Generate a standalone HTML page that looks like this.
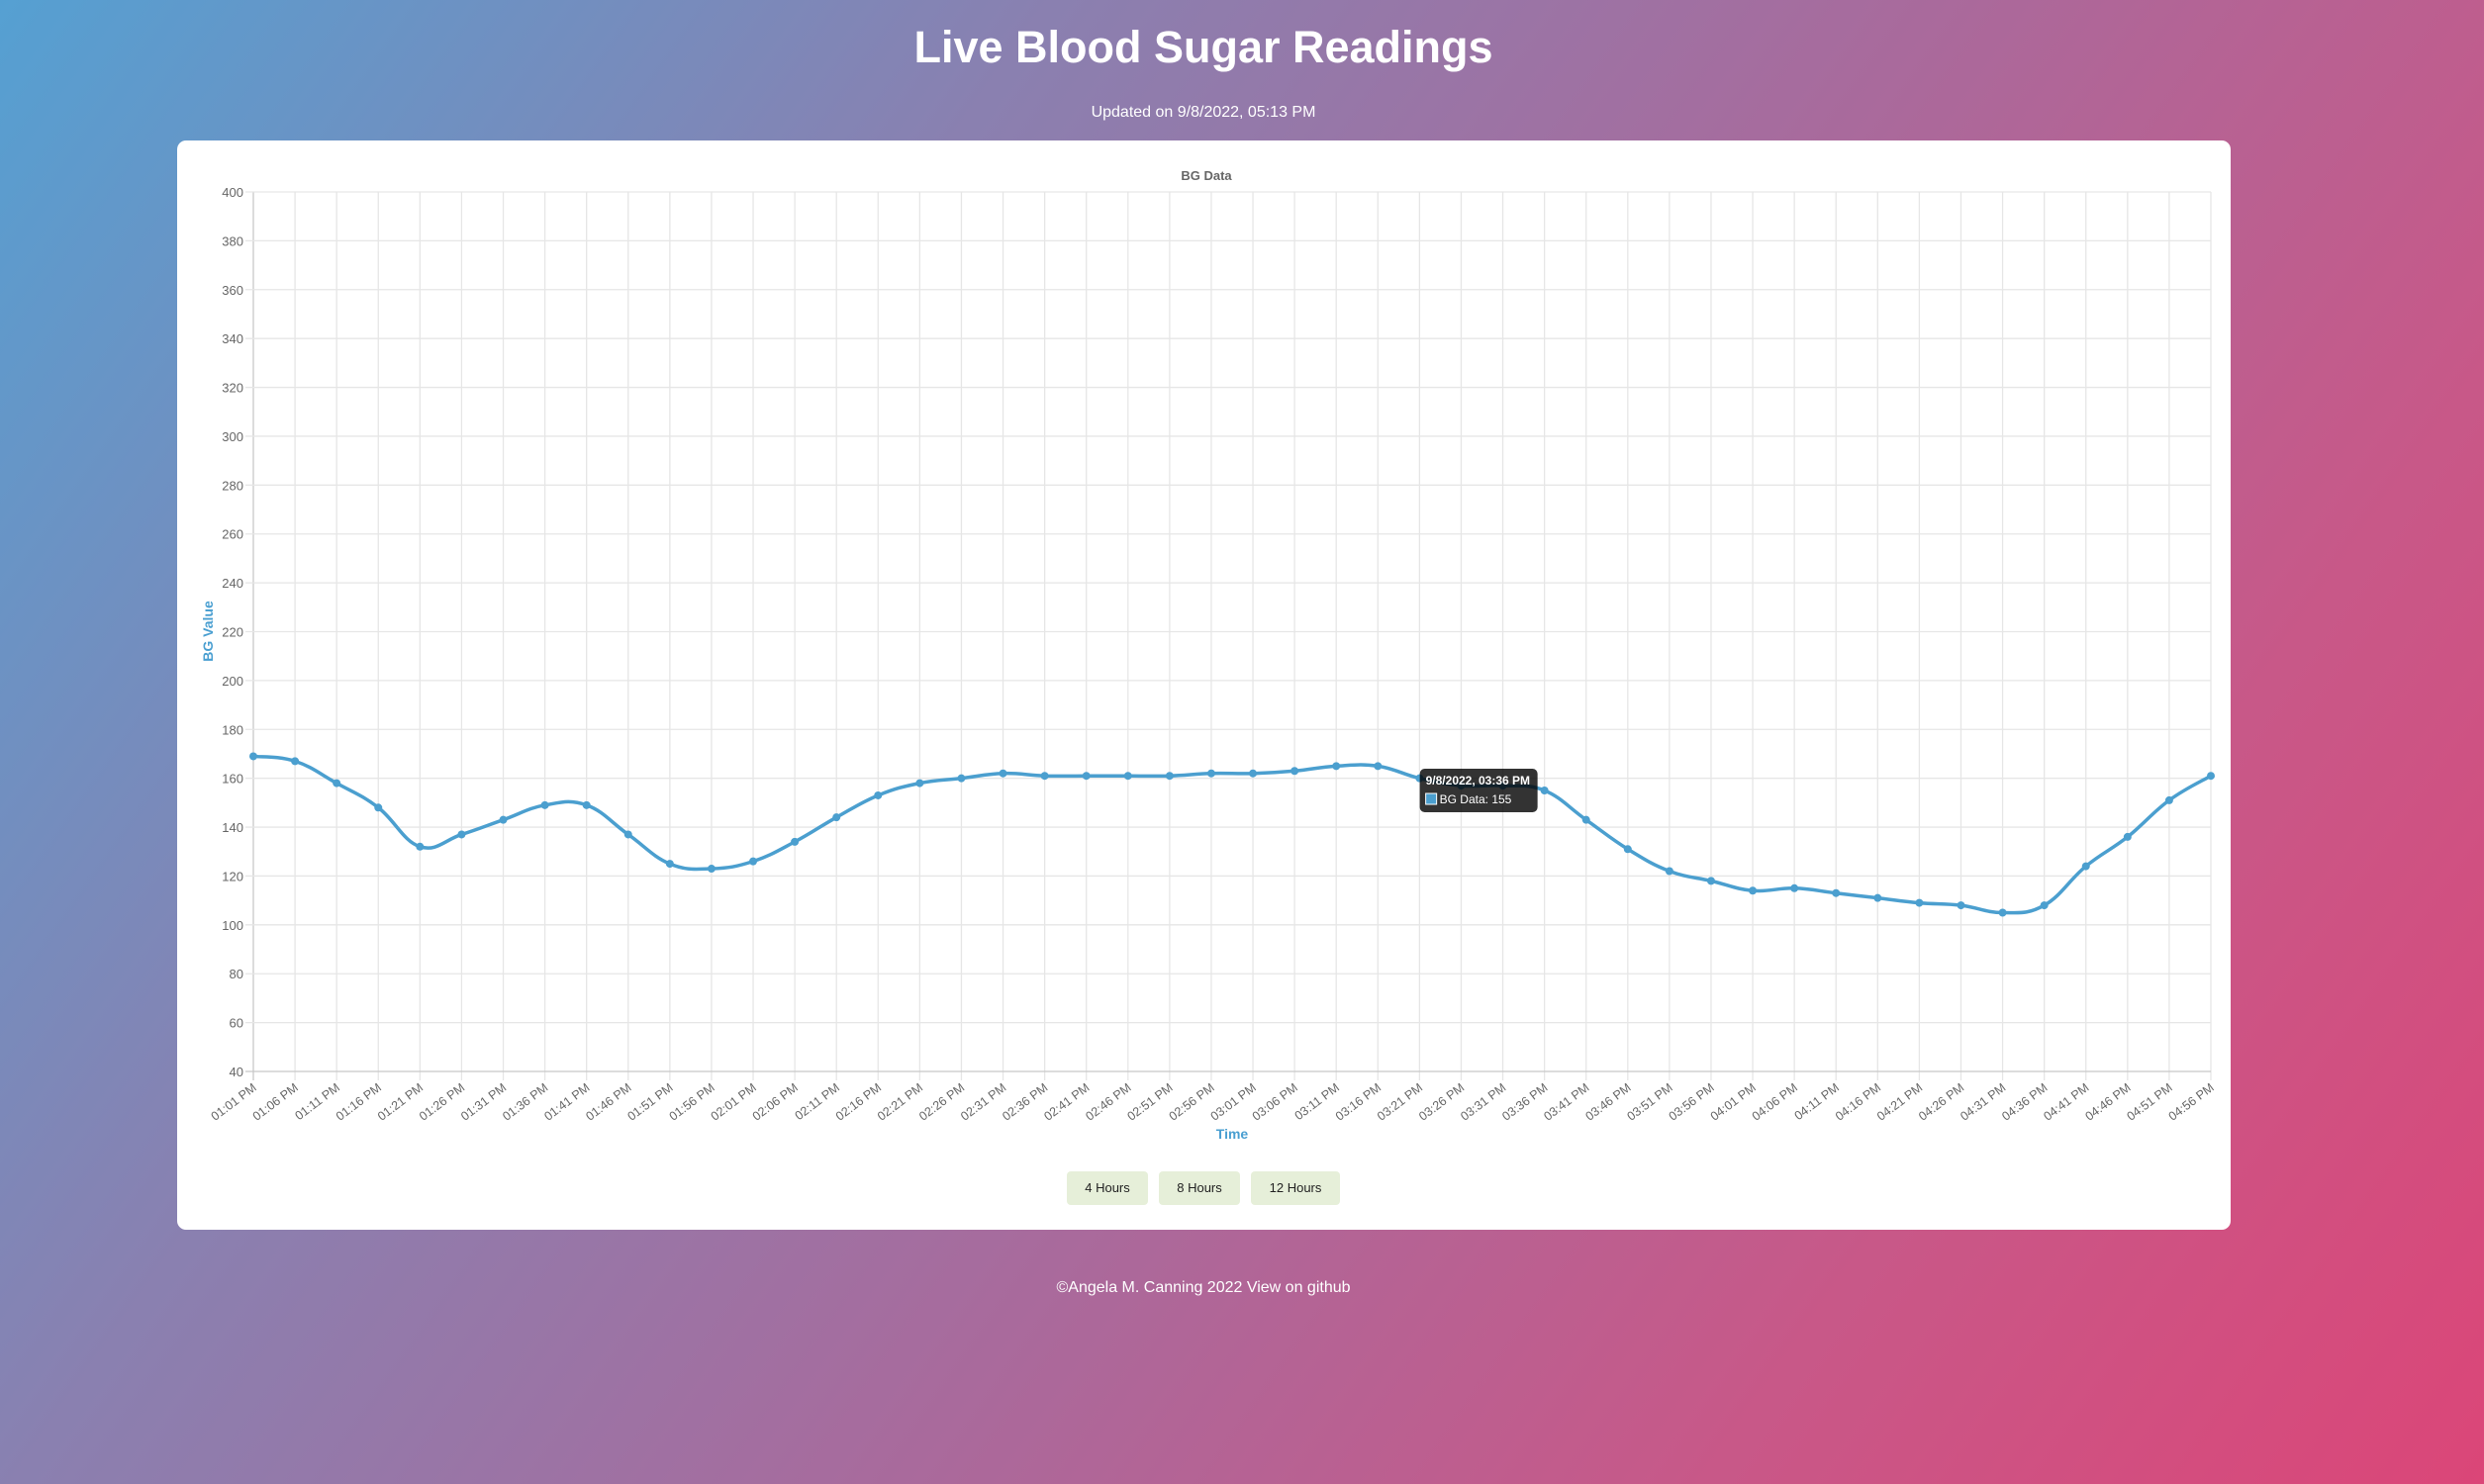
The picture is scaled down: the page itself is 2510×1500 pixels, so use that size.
<!DOCTYPE html>
<html><head><meta charset="utf-8">
<style>
html,body{margin:0;padding:0;}
body{width:2510px;height:1500px;overflow:hidden;background:linear-gradient(125deg,#55a0d2 0%,#8a80b0 30%,#a96a9c 55%,#c85888 78%,#db4678 100%);font-family:"Liberation Sans",sans-serif;position:relative;}
h1{position:absolute;top:22px;left:0;width:2432px;text-align:center;margin:0;color:#fff;font-size:45px;font-weight:bold;}
.sub{position:absolute;top:105px;left:0;width:2432px;text-align:center;color:#fff;font-size:16px;}
.card{position:absolute;left:179px;top:142px;width:2075px;height:1101px;background:#fff;border-radius:9px;}
.btn{position:absolute;top:1184px;height:34px;background:#e6efd9;border-radius:4px;font-size:13px;color:#222;line-height:34px;text-align:center;}
.foot{position:absolute;top:1293px;left:0;width:2432px;text-align:center;color:#fff;font-size:16px;}
</style></head><body>
<h1>Live Blood Sugar Readings</h1>
<div class="sub">Updated on 9/8/2022, 05:13 PM</div>
<div class="card"></div>
<svg id="chart" width="2510" height="1500" style="position:absolute;left:0;top:0" font-family="Liberation Sans, sans-serif"></svg>
<div class="btn" style="left:1078px;width:82px">4 Hours</div>
<div class="btn" style="left:1171px;width:82px">8 Hours</div>
<div class="btn" style="left:1264px;width:90px">12 Hours</div>
<div class="foot">©Angela M. Canning 2022 <span>View on github</span></div>
<script>
const categories=["01:01 PM","01:06 PM","01:11 PM","01:16 PM","01:21 PM","01:26 PM","01:31 PM","01:36 PM","01:41 PM","01:46 PM","01:51 PM","01:56 PM","02:01 PM","02:06 PM","02:11 PM","02:16 PM","02:21 PM","02:26 PM","02:31 PM","02:36 PM","02:41 PM","02:46 PM","02:51 PM","02:56 PM","03:01 PM","03:06 PM","03:11 PM","03:16 PM","03:21 PM","03:26 PM","03:31 PM","03:36 PM","03:41 PM","03:46 PM","03:51 PM","03:56 PM","04:01 PM","04:06 PM","04:11 PM","04:16 PM","04:21 PM","04:26 PM","04:31 PM","04:36 PM","04:41 PM","04:46 PM","04:51 PM","04:56 PM"];
const bgValues=[169,167,158,148,132,137,143,149,149,137,125,123,126,134,144,153,158,160,162,161,161,161,161,162,162,163,165,165,160,157,157,155,143,131,122,118,114,115,113,111,109,108,105,108,124,136,151,161];
const yTicks=[40,60,80,100,120,140,160,180,200,220,240,260,280,300,320,340,360,380,400];
const tooltipIndex=31;

const svg=document.getElementById('chart');
const NS='http://www.w3.org/2000/svg';
const L=256,R=2234,T=194,B=1083,yMin=40,yMax=400;
const xs=i=>L+(R-L)*i/(categories.length-1);
const ys=v=>B-(B-T)*(v-yMin)/(yMax-yMin);
function mk(tag,attrs,parent){const e=document.createElementNS(NS,tag);for(const k in attrs)e.setAttribute(k,attrs[k]);(parent||svg).appendChild(e);return e;}

const grid=mk('g',{});


categories.forEach((c,i)=>{
  const x=xs(i);
  const l=mk('line',{x1:x,x2:x,y1:T,y2:B+9,stroke:i==0?'#c8c8c8':'#e6e6e6','stroke-width':1.3},grid);
  
  
  const t=mk('text',{x:0,y:0,'font-size':12.5,fill:'#666','text-anchor':'end',transform:`translate(${x+4},${B+18}) rotate(-37)`});
  
  
  t.textContent=c;
});
yTicks.forEach(v=>{
  const y=ys(v);
  const l=mk('line',{x1:L-8,x2:R,y1:y,y2:y,stroke:v==40?'#c8c8c8':'#e6e6e6','stroke-width':1.3},grid);
  
  
  const t=mk('text',{x:L-10,y:y+5,'font-size':13,fill:'#666','text-anchor':'end'});
  
  
  t.textContent=v;
});

const tt=mk('text',{x:1219,y:182,'font-size':13,'font-weight':'bold',fill:'#666','text-anchor':'middle'});


tt.textContent='BG Data';
const xt=mk('text',{x:1245,y:1151,'font-size':14,'font-weight':'bold',fill:'#4a9fd1','text-anchor':'middle'});


xt.textContent='Time';
const yt=mk('text',{x:0,y:0,'font-size':14,'font-weight':'bold',fill:'#4a9fd1','text-anchor':'middle',transform:'translate(215,638) rotate(-90)'});


yt.textContent='BG Value';

const pts=bgValues.map((v,i)=>[xs(i),ys(v)]);
const tension=0.4;
let d=`M${pts[0][0]},${pts[0][1]}`;
for(let i=0;i<pts.length-1;i++){
  const p0=pts[Math.max(0,i-1)],p1=pts[i],p2=pts[i+1],p3=pts[Math.min(pts.length-1,i+2)];
  const c1=[p1[0]+(p2[0]-p0[0])*tension/2,p1[1]+(p2[1]-p0[1])*tension/2];
  const c2=[p2[0]-(p3[0]-p1[0])*tension/2,p2[1]-(p3[1]-p1[1])*tension/2];
  d+=` C${c1[0]},${c1[1]} ${c2[0]},${c2[1]} ${p2[0]},${p2[1]}`;
}
const line=mk('path',{d:d,fill:'none',stroke:'#4b9fcf','stroke-width':3.5});


pts.forEach(p=>{
  const c=mk('circle',{cx:p[0],cy:p[1],r:4,fill:'#4b9fcf'});
  
  
});

const tp=pts[tooltipIndex];
const tg=mk('g',{});


const tx=tp[0]-126,ty=tp[1]-22;
mk('rect',{x:tx,y:ty,width:119,height:44,rx:5,fill:'rgba(0,0,0,0.8)'},tg);
const t1=mk('text',{x:tx+6,y:ty+16,'font-size':12,'font-weight':'bold',fill:'#fff'},tg);
t1.textContent='9/8/2022, '+categories[tooltipIndex];
mk('rect',{x:tx+6,y:ty+25,width:11,height:11,fill:'#4b9fcf',stroke:'#fff','stroke-width':1},tg);
const t2=mk('text',{x:tx+20,y:ty+35,'font-size':12,fill:'#fff'},tg);
t2.textContent='BG Data: '+bgValues[tooltipIndex];
</script>
</body></html>
